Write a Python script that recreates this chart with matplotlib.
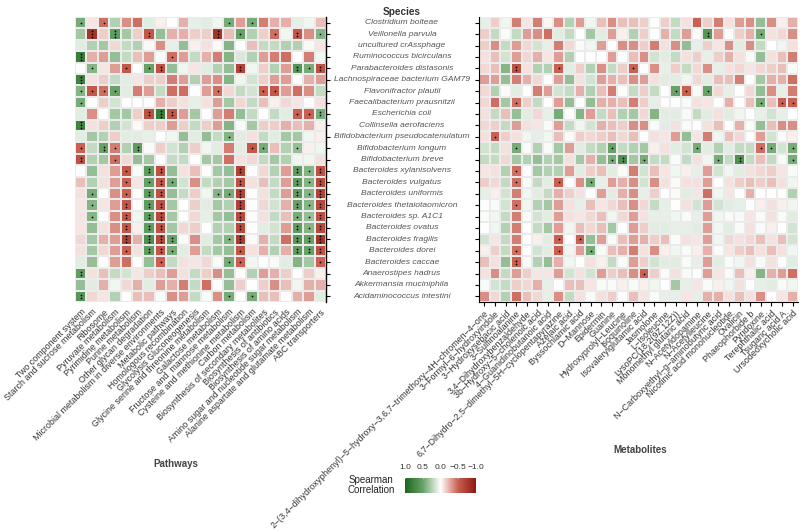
import numpy as np
import matplotlib
matplotlib.use("Agg")
import matplotlib.pyplot as plt
from matplotlib.colors import LinearSegmentedColormap, Normalize
from matplotlib.cm import ScalarMappable
from matplotlib.transforms import blended_transform_factory

plt.rcParams['font.family'] = ['Liberation Sans', 'DejaVu Sans']

# rows (top to bottom)
species = [
    "Clostridium bolteae", "Veillonella parvula", "uncultured crAssphage",
    "Ruminococcus bicirculans", "Parabacteroides distasonis",
    "Lachnospiraceae bacterium GAM79", "Flavonifractor plautii",
    "Faecalibacterium prausnitzii", "Escherichia coli", "Collinsella aerofaciens",
    "Bifidobacterium pseudocatenulatum", "Bifidobacterium longum",
    "Bifidobacterium breve", "Bacteroides xylanisolvens", "Bacteroides vulgatus",
    "Bacteroides uniformis", "Bacteroides thetaiotaomicron", "Bacteroides sp. A1C1",
    "Bacteroides ovatus", "Bacteroides fragilis", "Bacteroides dorei",
    "Bacteroides caccae", "Anaerostipes hadrus", "Akkermansia muciniphila",
    "Acidaminococcus intestini",
]

pathways = [
    "Two component system", "Starch and sucrose metabolism", "Ribosome",
    "Pyruvate metabolism", "Pyrimidine metabolism", "Purine metabolism",
    "Other glycan degradation", "Microbial metabolism in diverse environments",
    "Metabolic pathways", "Homologous recombination", "Glycolysis Gluconeogenesis",
    "Glycine serine and threonine metabolism", "Galactose metabolism",
    "Fructose and  mannose metabolism", "Cysteine and methionine metabolism",
    "Carbon metabolism", "Biosynthesis of secondary metabolites",
    "Biosynthesis of antibiotics", "Biosynthesis of amino acids",
    "Amino sugar and nucleotide sugar metabolism",
    "Alanine aspartate and glutamate metabolism", "ABC transporters",
]

metabolites = [
    "2−(3,4−dihydroxyphenyl)−5−hydroxy−3,6,7−trimethoxy−4H−chromen−4−one",
    "3−Formyl−6−hydroxyindole", "3−Hydroxysebacic acid", "3−Sulfinoalanine",
    "3,4−Dihydroxybenzaldehyde", "3b−Hydroxy−5−cholenoic acid",
    "4−Guanidinobutanoic acid",
    "6,7−Dihydro−2,5−dimethyl−5H−cyclopentapyrazine", "Azelaic acid",
    "Byssochlamic acid", "D−Mannose", "Epidermin", "Guanine",
    "Hydroxyprolyl−Leucine", "Isoquinoline", "Isovalerylglutamic acid",
    "Jasmolone", "L−Isoleucine", "LysoPC(18:2(9Z,12Z))",
    "Monomethyl glutaric acid", "N−Acetyldopamine", "N−Acetylleucine",
    "N−Carboxyethyl−g−aminobutyric acid", "Nicotinic acid mononucleotide",
    "Ovalicin", "Phaeophorbide b", "Pyridoxine", "Terephthalic acid",
    "Tsugaric acid A", "Ursodeoxycholic acid",
]

# Spearman correlations, species x pathways
path_vals = [
    [0.45,-0.08,-0.45,0.25,-0.35,-0.45,0.1,-0.05,0.0,-0.25,0.08,0.1,0.05,0.45,-0.3,0.45,-0.4,-0.25,-0.25,0.08,0.05,-0.2],
    [0.3,-0.8,-0.15,0.55,0.3,-0.15,-0.55,0.35,-0.25,-0.25,-0.15,-0.15,-0.8,-0.2,0.5,0.25,-0.15,-0.45,0.05,-0.55,-0.35,0.4],
    [0.1,0.25,0.3,-0.12,0.2,0.25,0.03,-0.35,0.08,0.35,-0.05,-0.1,-0.02,0.4,0.0,-0.2,0.2,0.2,0.25,0.25,0.03,-0.08],
    [0.8,-0.25,-0.3,0.35,0.2,-0.2,-0.3,0.02,-0.45,-0.3,0.2,-0.25,-0.4,0.4,0.12,0.25,-0.3,-0.4,-0.45,0.0,-0.4,0.05],
    [0.0,0.4,-0.08,-0.3,-0.55,0.0,0.5,-0.6,0.35,0.05,-0.08,0.1,0.25,0.35,-0.7,0.05,-0.15,0.25,-0.3,0.6,0.45,-0.6],
    [0.75,-0.1,-0.15,0.2,0.1,-0.08,-0.15,-0.15,-0.4,-0.3,0.25,-0.3,-0.35,0.4,0.05,0.15,-0.15,-0.3,-0.3,0.0,-0.25,-0.3],
    [0.4,-0.55,-0.45,0.5,0.1,-0.4,-0.3,0.2,-0.45,-0.45,0.0,-0.3,-0.45,-0.12,0.2,0.15,-0.5,-0.55,-0.3,-0.45,-0.35,0.2],
    [0.45,0.0,-0.15,0.15,0.0,0.0,0.0,-0.25,-0.15,-0.1,0.08,-0.1,-0.3,0.3,-0.12,0.2,-0.2,-0.05,-0.12,-0.08,0.0,-0.1],
    [0.1,-0.35,0.0,0.3,0.3,-0.15,-0.6,0.8,-0.55,-0.3,0.3,0.0,-0.3,-0.4,0.35,0.2,0.0,0.2,0.1,-0.5,-0.5,0.45],
    [0.75,-0.1,-0.15,0.25,0.15,-0.02,-0.15,-0.15,-0.3,-0.15,0.2,-0.15,-0.3,0.4,0.02,0.3,-0.15,-0.15,-0.25,-0.2,-0.25,-0.05],
    [0.1,0.3,0.25,-0.15,0.1,0.1,0.08,0.0,0.05,0.35,0.1,0.35,0.2,0.4,0.1,-0.1,0.2,0.1,0.3,0.3,0.05,-0.05],
    [-0.5,0.2,0.5,-0.4,0.25,0.55,0.02,-0.15,0.15,0.25,-0.15,0.05,0.1,-0.4,0.1,-0.55,0.45,-0.2,0.25,0.35,-0.05,0.05],
    [-0.6,0.25,0.3,-0.45,-0.12,0.35,0.3,0.0,0.2,0.2,0.0,0.3,0.3,-0.45,-0.1,-0.12,0.2,0.3,0.25,0.05,0.05,-0.1],
    [0.0,0.35,-0.1,-0.3,-0.55,0.02,0.55,-0.6,0.35,-0.1,-0.2,0.0,0.3,0.35,-0.7,0.0,-0.12,0.25,-0.3,0.55,0.4,-0.6],
    [-0.2,0.25,-0.1,-0.3,-0.5,-0.08,0.5,-0.55,0.45,0.15,-0.35,0.2,0.25,0.3,-0.6,-0.1,-0.2,0.2,-0.3,0.55,0.4,-0.65],
    [-0.1,0.45,0.0,-0.35,-0.5,0.0,0.55,-0.6,0.35,0.2,-0.15,0.05,0.4,0.45,-0.7,0.0,-0.1,0.2,-0.3,0.55,0.4,-0.7],
    [-0.08,0.4,-0.08,-0.3,-0.55,0.0,0.55,-0.6,0.3,0.0,-0.15,0.1,0.3,0.25,-0.7,0.0,-0.12,0.15,-0.25,0.5,0.4,-0.65],
    [-0.08,0.4,0.0,-0.35,-0.55,0.05,0.55,-0.65,0.3,0.0,-0.12,0.08,0.3,0.35,-0.65,0.0,-0.1,0.2,-0.2,0.45,0.35,-0.6],
    [-0.08,0.35,-0.1,-0.35,-0.55,-0.05,0.55,-0.6,0.3,-0.12,-0.15,0.0,0.25,0.25,-0.65,0.0,0.1,0.15,-0.3,0.55,0.4,-0.65],
    [-0.12,0.3,-0.25,-0.3,-0.7,-0.25,0.65,-0.65,0.5,0.02,-0.35,0.1,0.3,0.4,-0.75,0.02,-0.25,0.2,-0.45,0.6,0.5,-0.8],
    [-0.1,0.3,-0.12,-0.3,-0.5,-0.1,0.55,-0.55,0.45,0.1,-0.3,0.2,0.3,0.35,-0.55,-0.1,-0.25,0.25,-0.25,0.55,0.5,-0.6],
    [0.1,0.35,0.0,-0.3,-0.45,0.0,0.35,-0.5,0.2,-0.1,-0.08,-0.12,0.02,0.45,-0.5,0.05,0.0,0.02,0.1,0.4,0.3,-0.5],
    [0.55,-0.1,-0.2,0.2,0.15,-0.08,-0.15,-0.2,-0.3,-0.1,0.2,-0.15,-0.35,0.35,0.0,0.25,-0.3,-0.25,-0.15,0.0,-0.15,-0.05],
    [0.35,0.1,-0.25,0.05,-0.12,-0.25,0.1,-0.3,-0.25,-0.4,0.2,-0.45,0.0,0.35,-0.15,0.0,-0.15,-0.35,-0.2,0.05,-0.25,-0.25],
    [0.6,-0.12,-0.08,0.25,0.0,-0.2,-0.2,0.02,-0.35,-0.3,0.2,0.02,-0.35,0.45,0.0,0.45,-0.2,-0.2,0.0,-0.25,-0.3,0.1],
]

# Spearman correlations, species x metabolites
met_vals = [
    [0.08,-0.15,0.05,-0.4,-0.08,-0.4,-0.03,-0.35,0.25,-0.3,0.05,-0.2,-0.35,-0.2,-0.2,-0.15,0.0,-0.15,0.2,-0.1,-0.5,-0.15,-0.4,-0.1,-0.3,-0.35,0.35,-0.35,-0.05,-0.25],
    [-0.15,0.2,0.02,0.2,-0.3,-0.35,-0.45,0.1,0.2,0.0,0.3,0.1,-0.3,-0.05,0.25,-0.15,0.0,-0.25,0.2,-0.3,0.02,0.6,-0.3,0.0,-0.15,-0.25,0.45,-0.1,-0.12,-0.35],
    [-0.15,-0.35,0.2,-0.3,-0.12,0.15,0.08,-0.4,-0.12,0.02,0.05,-0.3,0.0,-0.35,-0.35,-0.15,-0.4,-0.1,-0.35,0.35,0.08,-0.15,-0.08,-0.35,0.1,-0.35,0.2,0.0,0.05,-0.1],
    [-0.1,-0.2,0.15,-0.3,-0.12,-0.25,-0.08,-0.3,0.25,0.0,0.0,0.0,-0.3,0.0,-0.2,-0.35,0.15,0.1,0.2,-0.1,-0.15,0.08,-0.15,-0.25,-0.1,0.02,0.35,-0.1,-0.2,-0.4],
    [-0.12,-0.2,0.4,-0.6,-0.1,0.25,0.25,-0.5,0.1,-0.15,0.25,-0.35,0.2,-0.15,-0.5,0.0,-0.35,0.08,-0.15,0.2,-0.12,-0.35,0.08,-0.1,-0.12,-0.08,-0.12,-0.15,-0.2,0.02],
    [-0.3,-0.3,0.35,-0.4,-0.25,-0.12,0.0,-0.3,0.35,-0.1,0.15,-0.3,-0.25,-0.2,-0.35,-0.3,-0.1,0.1,0.1,0.05,-0.12,0.1,-0.2,-0.2,-0.4,0.0,0.3,-0.25,-0.25,-0.45],
    [-0.12,0.25,0.02,0.1,0.0,-0.4,-0.3,0.15,0.2,-0.25,0.25,-0.2,-0.4,0.0,0.2,-0.15,0.2,0.0,0.5,-0.5,0.02,0.5,-0.12,0.08,0.0,-0.12,0.35,-0.35,0.08,-0.4],
    [-0.12,-0.45,0.3,-0.45,-0.15,0.2,0.0,-0.3,0.35,0.0,0.35,-0.25,-0.25,-0.2,-0.4,-0.15,0.08,0.0,0.0,0.02,-0.1,-0.08,0.0,-0.25,0.0,-0.2,0.45,-0.2,-0.5,-0.5],
    [-0.1,0.2,-0.2,0.35,0.1,-0.12,0.08,0.45,0.0,0.4,-0.3,0.2,-0.2,0.25,0.3,-0.12,0.4,0.1,0.1,0.03,0.2,0.1,-0.1,0.1,0.05,0.0,0.08,0.15,0.08,0.0],
    [-0.12,-0.15,0.2,-0.3,-0.1,-0.08,0.02,-0.3,0.2,0.05,0.15,-0.25,-0.2,-0.15,-0.35,-0.35,0.02,0.1,-0.1,0.02,0.0,-0.1,-0.2,0.0,-0.25,0.02,0.35,-0.2,-0.35,-0.35],
    [-0.1,-0.5,-0.15,-0.1,0.05,0.08,0.05,-0.2,0.02,-0.15,-0.12,-0.15,-0.2,-0.12,-0.2,0.0,-0.1,-0.08,-0.3,0.35,-0.08,-0.4,0.05,-0.2,-0.12,0.0,-0.3,0.15,0.02,-0.05],
    [0.15,0.2,-0.1,0.45,0.02,0.25,0.02,0.3,-0.3,0.1,0.2,0.25,0.5,0.2,0.25,0.3,-0.05,-0.1,0.1,0.15,0.45,0.1,0.25,0.1,0.2,0.2,-0.45,0.45,0.15,0.45],
    [0.2,0.2,-0.12,0.3,0.25,0.35,0.25,0.3,-0.1,0.3,-0.25,0.35,0.45,0.65,0.3,0.45,0.2,0.2,0.02,0.2,-0.1,0.05,0.45,0.2,0.65,0.2,-0.2,0.2,0.03,0.45],
    [-0.08,-0.1,0.25,-0.45,0.0,0.3,0.25,0.25,-0.3,0.1,-0.15,-0.2,0.1,0.02,-0.4,0.15,-0.2,-0.08,0.05,-0.05,0.08,-0.3,0.15,0.05,0.1,-0.1,-0.12,-0.15,-0.08,0.02],
    [-0.15,-0.12,0.2,-0.45,0.02,0.2,0.1,-0.5,0.0,-0.35,0.45,0.08,-0.3,-0.25,-0.35,0.15,-0.35,-0.1,0.02,-0.1,-0.1,-0.3,0.0,-0.1,-0.15,-0.2,-0.15,-0.2,-0.1,0.05],
    [0.08,-0.05,0.15,-0.4,0.05,0.1,0.2,-0.25,-0.15,-0.1,0.0,-0.3,0.1,-0.25,-0.35,0.08,-0.15,0.0,0.02,0.1,-0.08,-0.45,0.05,-0.08,0.0,-0.25,0.0,0.0,0.0,0.25],
    [0.0,0.02,0.15,-0.45,0.05,0.25,0.3,-0.3,-0.1,0.08,-0.2,-0.08,-0.12,-0.2,-0.35,-0.12,0.2,0.08,0.0,-0.1,0.15,-0.3,0.15,0.1,0.08,0.0,-0.05,-0.1,-0.05,0.05],
    [0.02,0.05,0.2,-0.4,0.02,0.15,0.1,-0.3,-0.1,-0.08,-0.12,-0.2,0.05,-0.12,-0.3,-0.1,0.08,0.08,0.05,0.02,0.08,-0.3,0.05,0.02,0.03,-0.08,0.02,-0.1,0.02,0.1],
    [0.0,0.05,0.25,-0.4,0.0,0.2,0.3,-0.3,0.05,-0.2,-0.12,-0.2,0.3,0.0,-0.3,-0.15,0.1,0.1,0.08,0.08,0.1,-0.3,0.05,0.1,0.02,-0.1,0.02,-0.05,0.0,0.15],
    [0.15,-0.08,0.2,-0.4,0.0,-0.05,0.1,-0.5,0.0,-0.5,0.35,-0.3,0.02,-0.2,-0.3,-0.25,-0.15,-0.2,0.02,-0.1,-0.08,-0.3,0.05,-0.12,-0.1,-0.12,-0.2,-0.1,-0.2,0.15],
    [-0.05,-0.15,0.2,-0.45,0.0,0.15,0.1,-0.5,0.05,-0.3,0.45,0.02,-0.2,-0.25,-0.4,-0.1,-0.35,-0.05,0.05,0.02,-0.05,-0.25,0.02,-0.08,-0.15,-0.2,-0.1,-0.2,-0.1,0.05],
    [-0.2,-0.1,0.35,-0.5,0.02,0.25,0.35,-0.25,0.05,0.0,-0.1,-0.05,0.2,0.02,-0.3,-0.15,0.15,0.1,0.1,0.02,0.08,-0.3,0.1,0.02,0.05,-0.1,0.02,-0.1,0.0,0.1],
    [-0.1,-0.35,0.2,-0.3,-0.15,-0.08,-0.08,-0.3,0.15,-0.1,0.15,-0.3,-0.15,-0.2,-0.35,-0.5,-0.15,0.02,-0.1,0.02,0.0,-0.3,-0.08,0.02,-0.2,-0.05,0.4,-0.25,-0.3,-0.45],
    [0.02,0.15,0.2,-0.15,-0.12,-0.25,0.08,0.0,-0.2,-0.2,-0.08,0.02,0.02,-0.05,0.02,-0.05,0.05,0.0,0.3,0.08,-0.08,0.02,-0.05,0.05,-0.1,0.0,0.08,0.1,0.02,0.05],
    [-0.35,-0.12,0.25,-0.45,-0.2,-0.12,0.08,-0.35,0.2,-0.1,0.02,-0.1,-0.15,0.0,-0.2,-0.08,0.02,0.08,0.08,-0.08,0.08,-0.25,-0.25,-0.1,-0.2,-0.1,-0.35,0.0,-0.08,-0.25],
]

# significance marks: (row, column, number of dots)
path_sig = [
    (0,0,1),(0,2,1),(0,13,1),(0,15,1),
    (1,1,3),(1,3,3),(1,6,2),(1,12,3),(1,14,1),(1,17,1),(1,19,2),(1,21,1),
    (3,0,3),(3,8,1),
    (4,1,1),(4,4,1),(4,6,1),(4,7,2),(4,14,2),(4,19,2),(4,20,1),(4,21,2),
    (5,0,3),
    (6,0,1),(6,1,1),(6,2,1),(6,3,1),(6,12,1),(6,16,1),(6,17,1),
    (7,0,1),
    (8,6,2),(8,7,3),(8,8,2),(8,19,1),(8,20,1),(8,21,2),
    (9,0,3),
    (10,13,1),
    (11,0,1),(11,2,2),(11,3,1),(11,5,2),(11,15,1),(11,16,1),(11,19,1),
    (12,0,2),(12,3,1),
    (13,4,1),(13,6,2),(13,7,2),(13,14,2),(13,19,2),(13,20,1),(13,21,2),
    (14,4,1),(14,6,1),(14,7,2),(14,8,1),(14,14,2),(14,19,2),(14,20,1),(14,21,2),
    (15,1,1),(15,4,1),(15,6,2),(15,7,2),(15,12,1),(15,13,1),(15,14,3),(15,19,2),(15,20,1),(15,21,3),
    (16,1,1),(16,4,2),(16,6,2),(16,7,2),(16,14,3),(16,19,2),(16,20,1),(16,21,2),
    (17,1,1),(17,4,2),(17,6,2),(17,7,3),(17,14,3),(17,19,1),(17,20,1),(17,21,2),
    (18,4,2),(18,6,2),(18,7,2),(18,14,2),(18,19,2),(18,20,1),(18,21,2),
    (19,4,3),(19,6,3),(19,7,3),(19,8,2),(19,13,1),(19,14,3),(19,19,2),(19,20,2),(19,21,3),
    (20,4,1),(20,6,2),(20,7,2),(20,8,1),(20,14,1),(20,19,2),(20,20,2),(20,21,2),
    (21,7,1),(21,13,1),(21,14,1),(21,21,1),
    (22,0,2),
    (24,0,2),(24,13,1),(24,15,1),
]

met_sig = [
    (1,21,2),(1,26,1),
    (4,3,2),(4,7,1),(4,14,1),
    (6,18,1),(6,19,1),(6,21,1),
    (7,3,1),(7,26,1),(7,28,1),(7,29,1),
    (10,1,1),
    (11,3,1),(11,12,1),(11,20,1),(11,26,1),(11,27,1),(11,29,1),
    (12,12,1),(12,13,2),(12,15,1),(12,22,1),(12,24,2),(12,29,1),
    (13,3,1),
    (14,3,1),(14,7,1),(14,10,1),
    (16,3,1),
    (19,7,1),(19,9,1),
    (20,3,1),(20,7,1),(20,10,1),
    (21,3,2),
    (22,15,1),
]

cmap = LinearSegmentedColormap.from_list(
    "spearman", ["#8c1a10", "#c95f50", "#ffffff", "#68a268", "#1a661a"])

W, H = 800, 531
fig = plt.figure(figsize=(W / 100, H / 100), dpi=100)
ax1 = fig.add_axes([75 / W, 1 - 302 / H, 251 / W, 285 / H])
ax2 = fig.add_axes([479 / W, 1 - 302 / H, 319 / W, 285 / H])

tick_color = "#333333"


def draw_heat(ax, vals, sig, labels):
    arr = np.array(vals)
    nr, nc = arr.shape
    ax.pcolormesh(arr, cmap=cmap, vmin=-1, vmax=1,
                  edgecolors="#ebebeb", linewidth=0.3)
    ax.set_xlim(0, nc)
    ax.set_ylim(nr, 0)
    for r, c, n in sig:
        ys = r + 0.5 + (np.arange(n) - (n - 1) / 2) * 0.27
        ax.scatter([c + 0.5] * n, ys, s=1.6, color="black", linewidths=0, zorder=3)
    ax.set_xticks(np.arange(nc) + 0.5)
    ax.set_xticklabels(labels, rotation=45, ha="right", rotation_mode="anchor",
                       fontsize=6.4, color=tick_color)
    ax.set_yticks(np.arange(nr) + 0.5)
    ax.set_yticklabels([])
    for s in ax.spines.values():
        s.set_visible(False)


draw_heat(ax1, path_vals, path_sig, pathways)
draw_heat(ax2, met_vals, met_sig, metabolites)

ax1.yaxis.tick_right()
ax1.spines["right"].set_visible(True)
ax1.spines["right"].set_linewidth(1.0)
ax1.tick_params(axis="y", length=3, width=0.8)
ax1.tick_params(axis="x", length=0, pad=4)

ax2.spines["left"].set_visible(True)
ax2.spines["bottom"].set_visible(True)
ax2.tick_params(axis="both", length=3, width=0.8)
ax2.tick_params(axis="x", pad=2)

# species names in the middle
trans = blended_transform_factory(fig.transFigure, ax1.transData)
for i, name in enumerate(species):
    ax1.text(402 / W, i + 0.5, name, transform=trans, ha="center", va="center",
             fontsize=6.1, style="italic", color="#555555", clip_on=False)
fig.text(402 / W, 1 - 12 / H, "Species", ha="center", va="center",
         fontsize=7.2, fontweight="bold", color="#333333")

fig.text(176 / W, 1 - 464 / H, "Pathways", ha="center", va="center",
         fontsize=7, fontweight="bold", color="#444444")
fig.text(640 / W, 1 - 450 / H, "Metabolites", ha="center", va="center",
         fontsize=7, fontweight="bold", color="#444444")

# colour legend
cax = fig.add_axes([405 / W, 1 - 493 / H, 71 / W, 15 / H])
cb = fig.colorbar(ScalarMappable(norm=Normalize(-1, 1), cmap=cmap), cax=cax,
                  orientation="horizontal")
cax.invert_xaxis()
cb.outline.set_visible(False)
cb.set_ticks([1, 0.5, 0, -0.5, -1])
cb.set_ticklabels(["1.0", "0.5", "0.0", "−0.5", "−1.0"])
cax.xaxis.set_ticks_position("top")
cax.tick_params(axis="x", length=2, color="white", labelsize=6,
                labelcolor="#333333", pad=3)
fig.text(371 / W, 1 - 485 / H, "Spearman\nCorrelation", ha="center", va="center",
         fontsize=7, color="#222222", linespacing=1.1)

fig.savefig("out.png", dpi=100)
